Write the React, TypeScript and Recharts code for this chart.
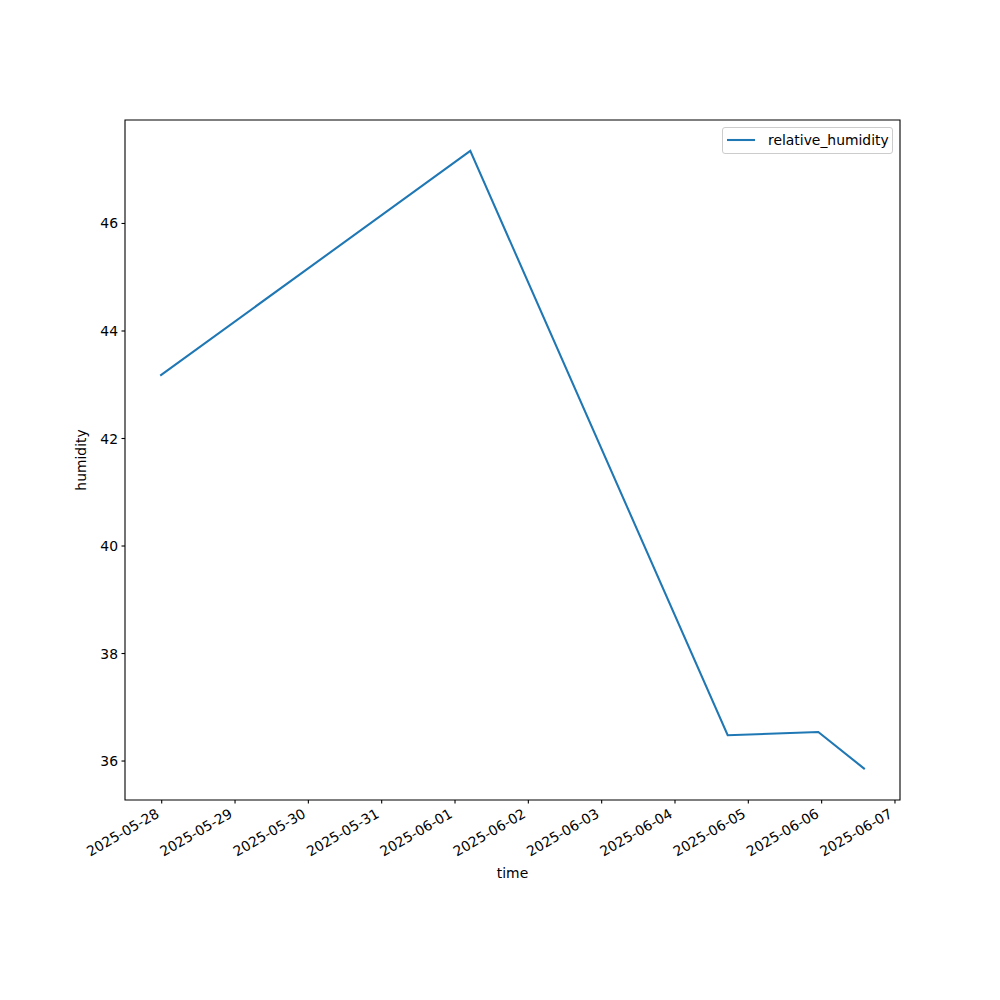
import React from "react";
import {
  LineChart,
  Line,
  XAxis,
  YAxis,
  Legend,
  ReferenceArea,
  Label,
} from "recharts";

const times: string[] = [
  "2025-05-27T23:31:00Z",
  "2025-06-01T05:00:00Z",
  "2025-06-04T17:15:00Z",
  "2025-06-05T22:54:00Z",
  "2025-06-06T14:07:00Z",
];
const relativeHumidity: number[] = [43.17, 47.35, 36.48, 36.54, 35.85];

const xTickLabels: string[] = [
  "2025-05-28",
  "2025-05-29",
  "2025-05-30",
  "2025-05-31",
  "2025-06-01",
  "2025-06-02",
  "2025-06-03",
  "2025-06-04",
  "2025-06-05",
  "2025-06-06",
  "2025-06-07",
];
const yTicks: number[] = [36, 38, 40, 42, 44, 46];

const SERIES_NAME = "relative_humidity";
const BLUE = "#1f77b4";
const FONT = "DejaVu Sans";
const FS = 13.9;

const data = times.map((t, i) => ({
  t: Date.parse(t),
  relative_humidity: relativeHumidity[i],
}));
const xTicks = xTickLabels.map((d) => Date.parse(d + "T00:00:00Z"));

const pad = (min: number, max: number): [number, number] => {
  const s = max - min;
  return [min - 0.05 * s, max + 0.05 * s];
};
const xDomain = pad(Math.min(...data.map((d) => d.t)), Math.max(...data.map((d) => d.t)));
const yDomain = pad(Math.min(...relativeHumidity), Math.max(...relativeHumidity));

const fmtDate = (ms: number) => {
  const d = new Date(ms);
  const mm = String(d.getUTCMonth() + 1).padStart(2, "0");
  const dd = String(d.getUTCDate()).padStart(2, "0");
  return `${d.getUTCFullYear()}-${mm}-${dd}`;
};

const XTick = (props: any) => {
  const { x, y, payload } = props;
  const ax = x - 1.6;
  const ay = y + 9.5;
  return (
    <text
      x={ax}
      y={ay}
      textAnchor="end"
      fontFamily={FONT}
      fontSize={FS}
      fill="#000"
      transform={`rotate(-30, ${ax}, ${ay})`}
    >
      {fmtDate(payload.value)}
    </text>
  );
};

const YTick = (props: any) => {
  const { x, y, payload } = props;
  return (
    <text
      x={x}
      y={y}
      dy="0.36em"
      textAnchor="end"
      fontFamily={FONT}
      fontSize={FS}
      fill="#000"
    >
      {payload.value}
    </text>
  );
};

const LegendBox = () => (
  <div
    style={{
      boxSizing: "border-box",
      width: 171,
      height: 27,
      border: "1px solid #cccccc",
      borderRadius: 3,
      background: "rgba(255,255,255,0.8)",
      display: "flex",
      alignItems: "center",
      fontFamily: FONT,
      fontSize: FS,
      color: "#000",
    }}
  >
    <svg width={45} height={25} style={{ display: "block" }}>
      <line x1={4} y1={12} x2={32} y2={12} stroke={BLUE} strokeWidth={2.08} />
    </svg>
    <span style={{ lineHeight: "25px" }}>{SERIES_NAME}</span>
  </div>
);

export default function App() {
  return (
    <div style={{ position: "absolute", left: 0, top: 0, width: 1000, height: 1000, background: "#fff" }}>
      <LineChart
        width={1000}
        height={1000}
        data={data}
        margin={{ top: 120, right: 100, left: 65, bottom: 120 }}
      >
        <XAxis
          dataKey="t"
          type="number"
          scale="linear"
          domain={xDomain}
          ticks={xTicks}
          interval={0}
          allowDataOverflow
          height={80}
          tickSize={3.5}
          tickMargin={3.5}
          axisLine={false}
          tickLine={{ stroke: "#000", strokeWidth: 1.1 }}
          tick={<XTick />}
        >
          <Label
            content={(p: any) => {
              const vb = p.viewBox || { x: 125, y: 800, width: 775 };
              return (
                <text
                  x={vb.x + vb.width / 2}
                  y={vb.y + 78}
                  textAnchor="middle"
                  fontFamily={FONT}
                  fontSize={FS}
                  fill="#000"
                >
                  time
                </text>
              );
            }}
          />
        </XAxis>
        <YAxis
          type="number"
          domain={yDomain}
          ticks={yTicks}
          interval={0}
          allowDataOverflow
          width={60}
          tickSize={3.5}
          tickMargin={3.5}
          axisLine={false}
          tickLine={{ stroke: "#000", strokeWidth: 1.1 }}
          tick={<YTick />}
        >
          <Label
            content={(p: any) => {
              const vb = p.viewBox || { x: 65, y: 120, height: 680 };
              const lx = vb.x + 21;
              const ly = vb.y + vb.height / 2;
              return (
                <text
                  x={lx}
                  y={ly}
                  textAnchor="middle"
                  fontFamily={FONT}
                  fontSize={FS}
                  fill="#000"
                  transform={`rotate(-90, ${lx}, ${ly})`}
                >
                  humidity
                </text>
              );
            }}
          />
        </YAxis>
        <ReferenceArea
          x1={xDomain[0]}
          x2={xDomain[1]}
          y1={yDomain[0]}
          y2={yDomain[1]}
          fill="none"
          fillOpacity={0}
          stroke="#000"
          strokeWidth={1.1}
          ifOverflow="visible"
        />
        <Legend
          layout="vertical"
          align="center"
          verticalAlign="middle"
          wrapperStyle={{ position: "absolute", top: 127, left: 722, width: 171, height: 27 }}
          content={<LegendBox />}
        />
        <Line
          type="linear"
          dataKey="relative_humidity"
          name={SERIES_NAME}
          stroke={BLUE}
          strokeWidth={2.08}
          dot={false}
          activeDot={false}
          isAnimationActive={false}
        />
      </LineChart>
    </div>
  );
}
